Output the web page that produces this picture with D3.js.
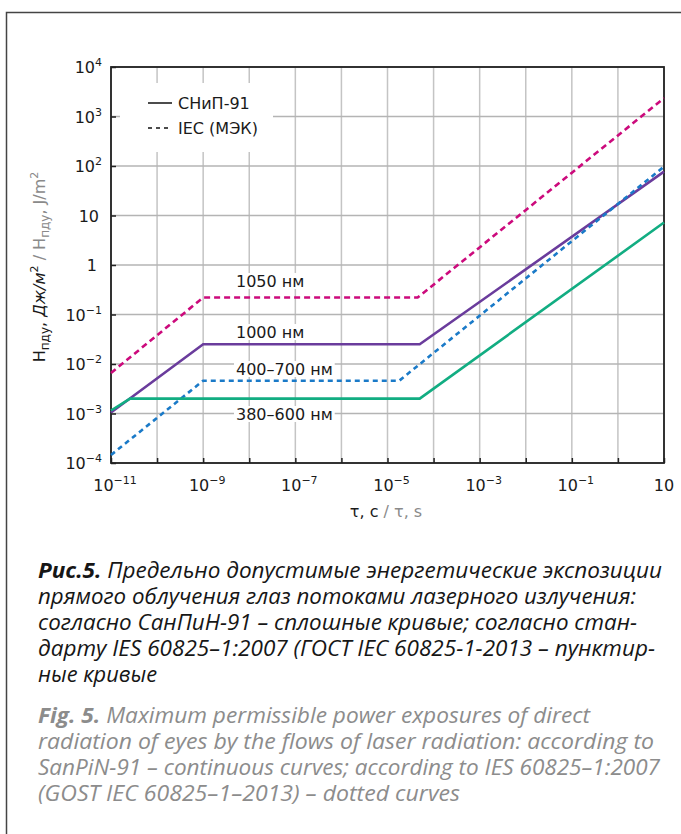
<!DOCTYPE html>
<html>
<head>
<meta charset="utf-8">
<script src="https://cdn.jsdelivr.net/npm/d3@7"></script>
<style>
  body { margin: 0; background: #fff; }
  text { font-family: "DejaVu Sans", sans-serif; }
  .cap { font-family: "Open Sans", sans-serif; font-style: italic; }
</style>
</head>
<body>
<div id="graf"></div>
<script>
// datos (tiempo tau en s, H en J/m2)
const tauSan1000 = [1e-11, 1e-9, 5e-5, 10]
const hSan1000   = [1.05e-3, 2.5e-2, 2.5e-2, 77]
const tauSan380  = [1e-11, 2.6e-11, 5e-5, 10]
const hSan380    = [1.15e-3, 2.0e-3, 2.0e-3, 7.2]
const tauIec1050 = [1e-11, 1e-9, 4.5e-5, 10]
const hIec1050   = [6.6e-3, 0.22, 0.22, 2350]
const tauIec400  = [1e-11, 1e-9, 1.8e-5, 10]
const hIec400    = [1.45e-4, 4.6e-3, 4.6e-3, 97]

const seriesNames  = ['1050 нм', '1000 нм', '400–700 нм', '380–600 нм']
const xTickExps    = [-11, -9, -7, -5, -3, -1, 1]
const yTickExps    = [4, 3, 2, 1, 0, -1, -2, -3, -4]
const legendNames  = ['СНиП-91', 'IEC (МЭК)']

const capRu = ['Предельно допустимые энергетические экспозиции',
               'прямого облучения глаз потоками лазерного излучения:',
               'согласно СанПиН-91 – сплошные кривые; согласно стан-',
               'дарту IES 60825–1:2007 (ГОСТ IEC 60825-1-2013 – пунктир-',
               'ные кривые']
const capEn = ['Maximum permissible power exposures of direct',
               'radiation of eyes by the flows of laser radiation: according to',
               'SanPiN-91 – continuous curves; according to IES 60825–1:2007',
               '(GOST IEC 60825–1–2013) – dotted curves']

const series = [
  { t: tauIec1050, h: hIec1050, color: '#cc0a7c', dash: '6,4' },
  { t: tauSan1000, h: hSan1000, color: '#6a3c9c', dash: null },
  { t: tauIec400,  h: hIec400,  color: '#1a7ac8', dash: '5,4' },
  { t: tauSan380,  h: hSan380,  color: '#12ad82', dash: null }
]

const ancho_total = 681, alto_total = 834
const margen = { izquierdo: 111, superior: 67 }
const ancho = 553, alto = 396

const svg = d3.select('#graf').append('svg')
  .attr('width', ancho_total).attr('height', alto_total)

// marco exterior
svg.append('path')
  .attr('d', `M6.5,834 V12.5 H681`)
  .attr('fill', 'none').attr('stroke', '#444').attr('stroke-width', 1.5)

const g = svg.append('g').attr('transform', `translate(${margen.izquierdo},${margen.superior})`)

const x = d3.scaleLog().domain([1e-11, 10]).range([0, ancho])
const y = d3.scaleLog().domain([1e-4, 1e4]).range([alto, 0])

const xDec = d3.range(-11, 2).map(e => Math.pow(10, e))
const yDec = d3.range(-4, 5).map(e => Math.pow(10, e))

// rejilla
g.append('g').selectAll('line').data(xDec).join('line')
  .attr('x1', d => x(d)).attr('x2', d => x(d)).attr('y1', 0).attr('y2', alto)
  .attr('stroke', '#c4c4c4').attr('stroke-width', 1.5)
g.append('g').selectAll('line').data(yDec).join('line')
  .attr('y1', d => y(d)).attr('y2', d => y(d)).attr('x1', 0).attr('x2', ancho)
  .attr('stroke', '#b4b4b4').attr('stroke-width', 1.5)

// caja blanca de la leyenda
g.append('rect').attr('x', 9).attr('y', 16).attr('width', 153).attr('height', 69).attr('fill', '#fff')

// ejes con ticks hacia dentro
const xAxisGroup = g.append('g').attr('transform', `translate(0,${alto})`)
  .call(d3.axisBottom(x).tickValues(xDec).tickSize(-5).tickFormat(''))
const yAxisGroup = g.append('g')
  .call(d3.axisLeft(y).tickValues(yDec).tickSize(-5).tickFormat(''))
;[xAxisGroup, yAxisGroup].forEach(a => {
  a.select('.domain').remove()
  a.selectAll('line').attr('stroke', '#222').attr('stroke-width', 1.5)
})
g.append('rect').attr('width', ancho).attr('height', alto)
  .attr('fill', 'none').attr('stroke', '#222').attr('stroke-width', 1.8)

// etiquetas de los ticks
function potencia(sel, e) {
  if (e === 0) { sel.text('1'); return }
  sel.append('tspan').text('10')
  if (e !== 1) sel.append('tspan').attr('dy', -7).attr('font-size', 11)
    .text(e < 0 ? '−' + (-e) : String(e))
}
xTickExps.forEach(e => {
  const t = g.append('text').attr('x', x(Math.pow(10, e)) + (e === 1 ? 0 : 4)).attr('y', alto + 28)
    .attr('text-anchor', 'middle').attr('font-size', 16).attr('fill', '#1a1a1a')
  potencia(t, e)
})
yTickExps.forEach(e => {
  const t = g.append('text').attr('x', e === 1 ? -12 : e === 0 ? -14 : -9).attr('y', y(Math.pow(10, e)) + 6)
    .attr('text-anchor', 'end').attr('font-size', 16).attr('fill', '#1a1a1a')
  potencia(t, e)
})

// curvas
const linea = d3.line().x(d => x(d[0])).y(d => y(d[1]))
g.append('g').selectAll('path').data(series).join('path')
  .attr('d', s => linea(s.t.map((t, i) => [t, s.h[i]])))
  .attr('fill', 'none').attr('stroke', s => s.color).attr('stroke-width', 2.6)
  .attr('stroke-dasharray', s => s.dash)

// nombres de las curvas con fondo blanco
const posEtiq = [287, 338, 375, 420]
seriesNames.forEach((n, i) => {
  const t = g.append('text').attr('x', 125).attr('y', posEtiq[i] - margen.superior)
    .attr('font-size', 16).attr('fill', '#1a1a1a').text(n)
  const b = t.node().getBBox()
  g.insert('rect', () => t.node()).attr('x', b.x - 2).attr('y', b.y + 1)
    .attr('width', b.width + 4).attr('height', b.height - 3).attr('fill', '#fff')
})

// leyenda
legendNames.forEach((n, i) => {
  const yy = 36 + i * 25
  g.append('line').attr('x1', 37).attr('x2', 61).attr('y1', yy).attr('y2', yy)
    .attr('stroke', '#111').attr('stroke-width', 1.5)
    .attr('stroke-dasharray', i === 1 ? '4,4' : null)
  g.append('text').attr('x', 67).attr('y', yy + 6).attr('font-size', 16)
    .attr('fill', '#1a1a1a').text(n)
})

// titulo eje X
const xt = svg.append('text').attr('x', 386).attr('y', 517).attr('text-anchor', 'middle')
  .attr('font-size', 16).attr('fill', '#1a1a1a')
xt.append('tspan').text('τ, с ')
xt.append('tspan').attr('fill', '#8a8a8a').text('/ τ, s')

// titulo eje Y
const yt = svg.append('text').attr('transform', 'translate(45,267) rotate(-90)')
  .attr('text-anchor', 'middle').attr('font-size', 16).attr('fill', '#1a1a1a')
yt.append('tspan').text('H')
yt.append('tspan').attr('dy', 4).attr('font-size', 12).text('пду')
yt.append('tspan').attr('dy', -4).text(', ')
yt.append('tspan').attr('font-style', 'italic').text('Дж/м')
yt.append('tspan').attr('dy', -7).attr('font-size', 11).text('2')
yt.append('tspan').attr('dy', 7).attr('fill', '#8a8a8a').text(' / H')
yt.append('tspan').attr('dy', 4).attr('font-size', 12).attr('fill', '#8a8a8a').text('пду')
yt.append('tspan').attr('dy', -4).attr('fill', '#8a8a8a').text(', J/m')
yt.append('tspan').attr('dy', -7).attr('font-size', 11).attr('fill', '#8a8a8a').text('2')

// pie de figura
const anchRu = [624, 598, 599, 617, 119]
const anchEn = [552, 616, 622, 422]
capRu.forEach((l, i) => {
  const t = svg.append('text').attr('class', 'cap').attr('x', 38).attr('y', 578 + i * 26)
    .attr('font-size', 21).attr('fill', '#161616')
  if (i === 0) {
    t.append('tspan').attr('font-weight', 'bold').text('Рис.5. ')
    t.append('tspan').text(l)
  } else t.text(l)
  t.attr('textLength', anchRu[i]).attr('lengthAdjust', 'spacingAndGlyphs')
})
capEn.forEach((l, i) => {
  const t = svg.append('text').attr('class', 'cap').attr('x', 38).attr('y', 723 + i * 26)
    .attr('font-size', 21).attr('fill', '#8c8c8c')
  if (i === 0) {
    t.append('tspan').attr('font-weight', 'bold').text('Fig. 5. ')
    t.append('tspan').text(l)
  } else t.text(l)
  t.attr('textLength', anchEn[i]).attr('lengthAdjust', 'spacingAndGlyphs')
})
</script>
</body>
</html>
